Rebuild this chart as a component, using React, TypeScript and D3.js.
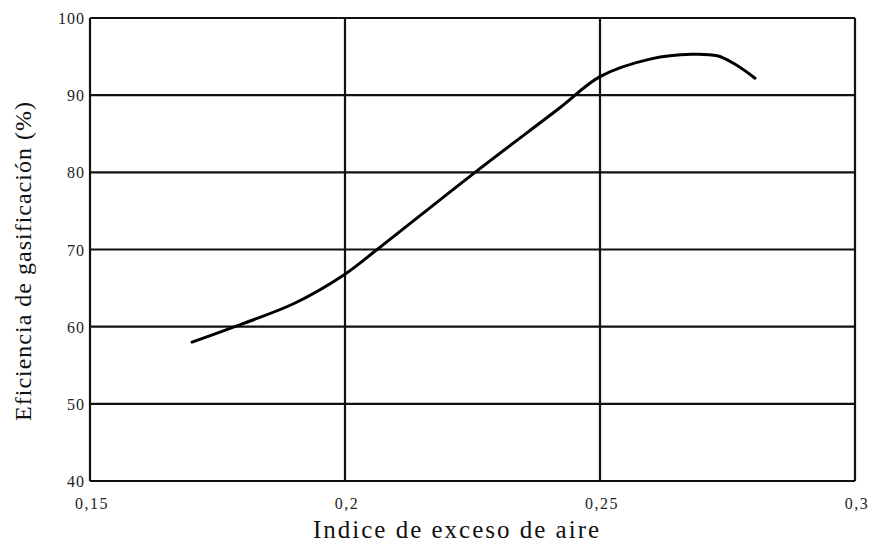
import React, { useEffect, useRef } from "react";
import * as d3 from "d3";

const xTicks = [0.15, 0.2, 0.25, 0.3];
const xTickLabels = ["0,15", "0,2", "0,25", "0,3"];
const yTicks = [40, 50, 60, 70, 80, 90, 100];

const airIndex = [0.17, 0.18, 0.19, 0.2, 0.2063, 0.2255, 0.2422, 0.25, 0.26, 0.268, 0.273, 0.2765, 0.2804];
const efficiency = [58.0, 60.4, 63.0, 66.8, 70.0, 80.0, 88.4, 92.4, 94.7, 95.3, 95.1, 94.0, 92.2];

export default function App() {
  const ref = useRef<SVGSVGElement>(null);

  useEffect(() => {
    const svg = d3.select(ref.current);
    svg.selectAll("*").remove();

    const x = d3.scaleLinear().domain([0.15, 0.3]).range([90, 855]);
    const y = d3.scaleLinear().domain([40, 100]).range([481, 18]);

    // horizontal grid
    svg.append("g")
      .selectAll("line")
      .data(yTicks)
      .join("line")
      .attr("x1", x(0.15))
      .attr("x2", x(0.3))
      .attr("y1", (d) => y(d))
      .attr("y2", (d) => y(d))
      .attr("stroke", "#111")
      .attr("stroke-width", 2.2);

    // vertical grid
    svg.append("g")
      .selectAll("line")
      .data(xTicks)
      .join("line")
      .attr("x1", (d) => x(d))
      .attr("x2", (d) => x(d))
      .attr("y1", y(100))
      .attr("y2", y(40))
      .attr("stroke", "#111")
      .attr("stroke-width", 2.2);

    // y labels
    svg.append("g")
      .selectAll("text")
      .data(yTicks)
      .join("text")
      .attr("x", 85)
      .attr("y", (d) => y(d) + 6)
      .attr("text-anchor", "end")
      .attr("font-family", "Liberation Serif, serif")
      .attr("font-size", 16)
      .attr("letter-spacing", 1)
      .attr("fill", "#222")
      .text((d) => String(d));

    // x labels
    svg.append("g")
      .selectAll("text")
      .data(xTicks)
      .join("text")
      .attr("x", (d) => x(d) + 2)
      .attr("y", 509)
      .attr("text-anchor", "middle")
      .attr("font-family", "Liberation Serif, serif")
      .attr("font-size", 16)
      .attr("letter-spacing", 1.5)
      .attr("fill", "#222")
      .text((d, i) => xTickLabels[i]);

    const pts = airIndex.map((v, i) => [v, efficiency[i]] as [number, number]);
    svg.append("path")
      .datum(pts)
      .attr("fill", "none")
      .attr("stroke", "#000")
      .attr("stroke-width", 3)
      .attr("stroke-linecap", "round")
      .attr("d", d3.line<[number, number]>()
        .x((d) => x(d[0]))
        .y((d) => y(d[1]))
        .curve(d3.curveCatmullRom.alpha(0.5)));

    svg.append("text")
      .attr("x", 457)
      .attr("y", 538)
      .attr("text-anchor", "middle")
      .attr("font-family", "Liberation Serif, serif")
      .attr("font-size", 25)
      .attr("letter-spacing", 2)
      .attr("fill", "#111")
      .text("Indice de exceso de aire");

    svg.append("text")
      .attr("transform", "translate(31,261) rotate(-90)")
      .attr("text-anchor", "middle")
      .attr("font-family", "Liberation Serif, serif")
      .attr("font-size", 24)
      .attr("letter-spacing", 1)
      .attr("fill", "#111")
      .text("Eficiencia de gasificación (%)");
  }, []);

  return (
    <svg
      ref={ref}
      width={872}
      height={546}
      style={{ position: "absolute", left: 0, top: 0, background: "#fff" }}
    />
  );
}
